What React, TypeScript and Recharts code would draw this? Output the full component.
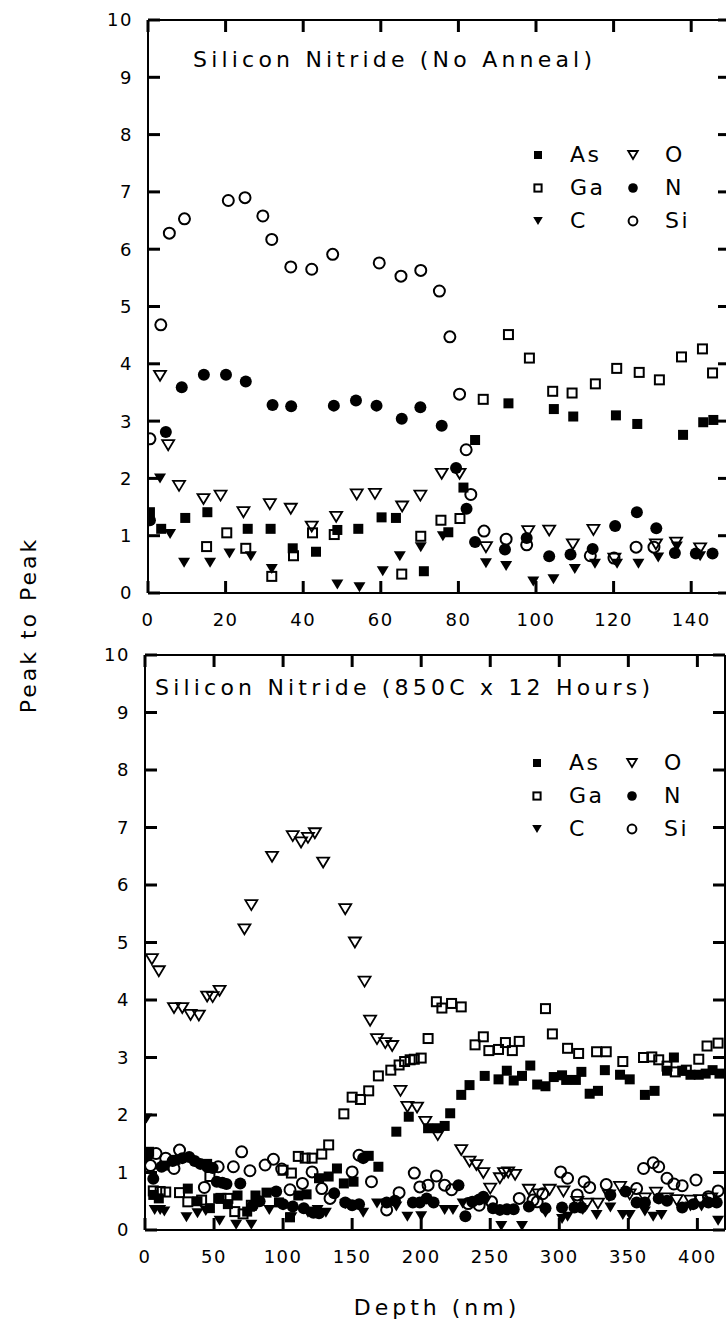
import React from 'react';
import { ScatterChart, Scatter, XAxis, YAxis, Legend } from 'recharts';

const FONT = '"DejaVu Sans", sans-serif';

// upper panel: silicon nitride, no anneal  [depth, peak-to-peak]
const asTop = [[0.5,1.41],[3.4,1.12],[9.6,1.31],[15.3,1.41],[25.7,1.12],[31.6,1.12],[37.3,0.78],[43.3,0.72],[48.8,1.1],[54.2,1.12],[60.2,1.32],[63.9,1.31],[71.1,0.38],[77.4,1.06],[81.3,1.84],[84.3,2.67],[92.9,3.31],[104.6,3.21],[109.6,3.08],[120.6,3.1],[126.1,2.95],[137.9,2.76],[143.1,2.98],[145.7,3.02]];
const gaTop = [[15.1,0.81],[20.3,1.05],[25.2,0.78],[31.9,0.29],[37.5,0.65],[42.4,1.05],[48,1.02],[65.4,0.33],[70.3,0.99],[75.5,1.27],[80.4,1.3],[86.4,3.38],[92.9,4.51],[98.3,4.1],[104.3,3.52],[109.3,3.49],[115.3,3.65],[120.8,3.92],[126.6,3.85],[131.8,3.72],[137.5,4.12],[142.9,4.26],[145.5,3.84]];
const cTop = [[3.1,2.0],[5.7,1.03],[9.3,0.53],[16,0.53],[21,0.69],[26.5,0.64],[31.9,0.42],[48.8,0.15],[54.5,0.1],[60.5,0.38],[64.9,0.64],[70.3,0.8],[76,0.99],[87.1,0.52],[92.3,0.47],[99.3,0.2],[104.5,0.24],[110,0.42],[115.2,0.51],[120.9,0.51],[126.4,0.51],[131.5,0.62],[136.3,0.81],[142.3,0.64]];
const oTop = [[3.1,3.79],[5.2,2.58],[8,1.87],[14.3,1.64],[18.7,1.7],[24.6,1.41],[31.4,1.55],[36.8,1.47],[42.2,1.16],[48.5,1.33],[53.8,1.72],[58.5,1.73],[65.5,1.51],[70.2,1.7],[75.7,2.08],[80.3,2.08],[87.1,0.8],[98,1.08],[103.4,1.09],[109.5,0.85],[114.8,1.1],[120.2,0.6],[130.9,0.85],[136.1,0.88],[142.3,0.78]];
const nTop = [[0.5,1.27],[4.6,2.81],[8.7,3.59],[14.4,3.81],[20.1,3.81],[25.2,3.69],[32.1,3.28],[36.9,3.26],[47.9,3.27],[53.6,3.36],[58.9,3.27],[65.4,3.04],[70.2,3.24],[75.7,2.92],[79.4,2.18],[82.1,1.47],[84.3,0.89],[92,0.76],[97.6,0.96],[103.4,0.64],[108.9,0.67],[114.6,0.77],[120.4,1.17],[126,1.41],[131,1.13],[135.8,0.7],[141.2,0.69],[145.5,0.69]];
const siTop = [[0.5,2.69],[3.3,4.68],[5.5,6.28],[9.4,6.53],[20.7,6.85],[25,6.9],[29.6,6.58],[31.9,6.17],[36.8,5.69],[42.2,5.65],[47.6,5.91],[59.6,5.76],[65.2,5.53],[70.3,5.63],[75.1,5.27],[77.8,4.47],[80.3,3.47],[82,2.5],[83.2,1.72],[86.6,1.08],[92.3,0.94],[97.6,0.84],[114,0.65],[120.1,0.61],[125.8,0.8],[130.4,0.8]];

// lower panel: 850C x 12 hours
const asBot = [[3,1.36],[6,0.61],[10,0.55],[14,1.12],[22,1.22],[31,0.72],[38,0.5],[45,1.15],[47,0.38],[53,0.55],[60,0.45],[67,0.6],[74,0.32],[80,0.6],[88,0.65],[97,0.48],[105,0.22],[111,0.6],[117,0.62],[122,0.32],[126,0.9],[133,0.93],[139,1.07],[144,0.81],[151,0.84],[162,1.29],[169,1.1],[182,1.71],[191,1.97],[205,1.77],[212,1.77],[217,1.81],[221,2.03],[229,2.35],[235,2.52],[246,2.68],[256,2.62],[262,2.77],[267,2.6],[273,2.68],[279,2.86],[284,2.53],[290,2.5],[296,2.66],[302,2.69],[305,2.61],[312,2.61],[316,2.75],[322,2.37],[328,2.42],[333,2.78],[344,2.7],[351,2.62],[362,2.35],[369,2.42],[378,2.77],[383,3.0],[389,2.77],[395,2.7],[401,2.7],[406,2.72],[411,2.78],[416,2.72]];
const gaBot = [[6,0.68],[11,0.67],[15,0.66],[25,0.65],[31,0.49],[41,0.52],[47,0.93],[55,0.55],[60,0.55],[65,0.32],[71,0.28],[77,0.43],[100,1.04],[106,0.99],[111,1.28],[116,1.25],[121,1.25],[128,1.32],[133,1.48],[144,2.02],[150,2.31],[156,2.27],[162,2.42],[169,2.68],[178,2.78],[184,2.87],[188,2.93],[192,2.96],[195,2.97],[200,2.99],[205,3.33],[211,3.97],[215,3.86],[222,3.94],[229,3.88],[239,3.22],[245,3.36],[249,3.12],[256,3.14],[261,3.26],[266,3.12],[271,3.28],[290,3.85],[295,3.41],[306,3.16],[314,3.07],[327,3.1],[334,3.1],[346,2.93],[361,3.0],[367,3.01],[372,2.96],[378,2.85],[384,2.75],[392,2.78],[401,2.97],[407,3.2],[415,3.25]];
const cBot = [[1,1.94],[7,0.35],[11,0.35],[14,0.32],[30,0.22],[38,0.29],[44,0.33],[54,0.16],[66,0.09],[77,0.09],[90,0.35],[106,0.22],[118,0.3],[125,0.35],[131,0.3],[145,0.45],[158,0.3],[168,0.46],[182,0.41],[190,0.23],[200,0.24],[217,0.35],[223,0.35],[230,0.46],[247,0.51],[258,0.07],[273,0.07],[290,0.3],[302,0.19],[306,0.23],[317,0.35],[327,0.26],[337,0.39],[346,0.26],[351,0.26],[362,0.32],[368,0.23],[374,0.26],[389,0.38],[395,0.41],[403,0.41],[415,0.16]];
const oBot = [[5,4.71],[10,4.5],[21,3.86],[27,3.86],[33,3.74],[39,3.73],[45,4.06],[49,4.05],[54,4.16],[72,5.23],[77,5.65],[92,6.49],[107,6.85],[113,6.74],[118,6.82],[123,6.9],[129,6.39],[145,5.58],[152,5.0],[159,4.32],[163,3.64],[168,3.32],[174,3.25],[179,3.2],[185,2.42],[190,2.14],[197,2.13],[203,1.88],[212,1.65],[229,1.39],[235,1.19],[240,1.13],[245,0.99],[250,0.72],[257,0.9],[260,0.99],[263,1.0],[268,0.96],[278,0.7],[285,0.62],[293,0.7],[303,0.67],[313,0.49],[320,0.46],[328,0.46],[336,0.6],[344,0.75],[351,0.62],[362,0.55],[370,0.65],[378,0.55],[385,0.52],[395,0.51],[402,0.52],[410,0.55]];
const nBot = [[2,1.3],[6,0.89],[12,1.1],[20,1.2],[27,1.25],[32,1.27],[36,1.2],[40,1.15],[45,1.1],[49,1.08],[52,0.84],[56,0.82],[59,0.8],[69,0.81],[78,0.42],[83,0.5],[95,0.67],[100,0.45],[107,0.41],[115,0.38],[122,0.3],[126,0.29],[137,0.64],[145,0.48],[150,0.43],[155,0.45],[158,1.25],[175,0.48],[181,0.51],[194,0.48],[199,0.48],[204,0.55],[209,0.48],[227,0.78],[232,0.24],[237,0.49],[242,0.53],[245,0.58],[252,0.38],[257,0.35],[262,0.36],[267,0.36],[278,0.41],[290,0.38],[302,0.39],[311,0.39],[316,0.39],[337,0.61],[348,0.67],[356,0.48],[362,0.48],[372,0.55],[378,0.51],[389,0.39],[397,0.45],[408,0.48],[414,0.48]];
const siBot = [[4,1.12],[8,1.33],[15,1.25],[21,1.07],[25,1.39],[43,0.74],[53,1.1],[64,1.1],[70,1.36],[76,1.03],[87,1.13],[93,1.23],[99,1.06],[105,0.7],[114,0.81],[121,1.01],[128,0.72],[134,0.55],[150,1.01],[155,1.3],[164,0.84],[175,0.35],[184,0.65],[195,0.99],[199,0.75],[205,0.78],[211,0.94],[217,0.78],[222,0.7],[234,0.46],[242,0.43],[251,0.49],[271,0.55],[281,0.52],[284,0.49],[288,0.63],[301,1.01],[306,0.9],[313,0.61],[318,0.84],[322,0.74],[334,0.79],[356,0.72],[361,1.07],[368,1.17],[372,1.1],[378,0.9],[383,0.8],[389,0.77],[399,0.87],[408,0.58],[415,0.68]];

const yTicks = [0, 1, 2, 3, 4, 5, 6, 7, 8, 9, 10];
const xTicksTop = [0, 20, 40, 60, 80, 100, 120, 140];
const xTicksBot = [0, 50, 100, 150, 200, 250, 300, 350, 400];

const legendRows = [
  [['sqFill', 'As'], ['triOpen', 'O']],
  [['sqOpen', 'Ga'], ['dotFill', 'N']],
  [['triFill', 'C'], ['dotOpen', 'Si']],
];

const toXY = (a: number[][]) => a.map(([x, y]) => ({ x, y }));

function Mark({ kind, cx, cy, s = 1 }: { kind: string; cx: number; cy: number; s?: number }) {
  const k = '#000';
  switch (kind) {
    case 'sqFill':
      return <rect x={cx - 5 * s} y={cy - 5 * s} width={10 * s} height={10 * s} fill={k} />;
    case 'sqOpen':
      return <rect x={cx - 4.5 * s} y={cy - 4.5 * s} width={9 * s} height={9 * s} fill="none" stroke={k} strokeWidth={2} />;
    case 'triFill':
      return <polygon points={`${cx - 6 * s},${cy - 5 * s} ${cx + 6 * s},${cy - 5 * s} ${cx},${cy + 5 * s}`} fill={k} />;
    case 'triOpen':
      return <polygon points={`${cx - 6 * s},${cy - 5 * s} ${cx + 6 * s},${cy - 5 * s} ${cx},${cy + 5 * s}`} fill="none" stroke={k} strokeWidth={1.8} />;
    case 'dotFill':
      return <circle cx={cx} cy={cy} r={6 * s} fill={k} />;
    default:
      return <circle cx={cx} cy={cy} r={5.5 * s} fill="none" stroke={k} strokeWidth={2} />;
  }
}

const shape = (kind: string) => (p: any) => <Mark kind={kind} cx={p.cx} cy={p.cy} />;

const LegendBox = () => (
  <div style={{ position: 'relative', width: 190, height: 100, fontFamily: FONT, fontSize: 22, letterSpacing: 2.5 }}>
    {legendRows.map((row, r) =>
      row.map(([kind, name], c) => (
        <React.Fragment key={name}>
          <svg style={{ position: 'absolute', left: c * 95, top: r * 33 + 7 }} width={20} height={20}>
            <Mark kind={kind} cx={10} cy={10} s={0.8} />
          </svg>
          <span style={{ position: 'absolute', left: c * 95 + 42, top: r * 33, lineHeight: '34px' }}>{name}</span>
        </React.Fragment>
      ))
    )}
  </div>
);

const TL = 12; // inward tick length
const TW = 3;
const tickText = { fill: '#000', fontSize: 18, fontFamily: FONT, letterSpacing: 1.5 };
const axisLine = { stroke: '#000', strokeWidth: 2 };

// inward ticks on both sides of the frame; position along the axis comes from the axis scale
const leftTick = (edge: number, far: number) => (p: any) => (
  <g>
    <line x1={edge} x2={edge + TL} y1={p.y} y2={p.y} stroke="#000" strokeWidth={TW} />
    <line x1={far} x2={far - TL} y1={p.y} y2={p.y} stroke="#000" strokeWidth={TW} />
    <text x={edge - 15} y={p.y} dy="0.36em" textAnchor="end" {...tickText}>{String(p.payload.value)}</text>
  </g>
);
const bottomTick = (edge: number, far: number) => (p: any) => (
  <g>
    <line x1={p.x} x2={p.x} y1={edge} y2={edge - TL} stroke="#000" strokeWidth={TW} />
    <line x1={p.x} x2={p.x} y1={far} y2={far + TL} stroke="#000" strokeWidth={TW} />
    <text x={p.x} y={edge + 27} dy="0.36em" textAnchor="middle" {...tickText}>{String(p.payload.value)}</text>
  </g>
);

function Panel({ series, xMax, xTicks, leftW, plotW, height, legendPos }: any) {
  const w = leftW + plotW + 10;
  const top = 20;
  const bottom = height - 40;
  const right = leftW + plotW;
  return (
    <ScatterChart width={w} height={height} margin={{ top: 0, right: 0, bottom: 0, left: 0 }}>
      <XAxis type="number" dataKey="x" domain={[0, xMax]} ticks={xTicks} height={40} interval={0}
        tick={bottomTick(bottom, top)} tickLine={false} axisLine={axisLine} allowDataOverflow />
      <XAxis xAxisId="top" orientation="top" type="number" domain={[0, xMax]} height={20}
        tick={false} tickLine={false} axisLine={axisLine} />
      <YAxis type="number" dataKey="y" domain={[0, 10]} ticks={yTicks} width={leftW} interval={0}
        tick={leftTick(leftW, right)} tickLine={false} axisLine={axisLine} />
      <YAxis yAxisId="right" orientation="right" type="number" domain={[0, 10]} width={10}
        tick={false} tickLine={false} axisLine={axisLine} />
      <Legend layout="horizontal" verticalAlign="middle" align="center" content={() => <LegendBox />}
        wrapperStyle={{ top: legendPos[1], left: legendPos[0], width: 190 }} />
      {series.map(([name, kind, data]: any) => (
        <Scatter key={name} name={name} data={toXY(data)} shape={shape(kind)} isAnimationActive={false} />
      ))}
    </ScatterChart>
  );
}

const topSeries = [['As', 'sqFill', asTop], ['Ga', 'sqOpen', gaTop], ['C', 'triFill', cTop], ['O', 'triOpen', oTop], ['N', 'dotFill', nTop], ['Si', 'dotOpen', siTop]];
const botSeries = [['As', 'sqFill', asBot], ['Ga', 'sqOpen', gaBot], ['C', 'triFill', cBot], ['O', 'triOpen', oBot], ['N', 'dotFill', nBot], ['Si', 'dotOpen', siBot]];

const label: React.CSSProperties = { position: 'absolute', fontFamily: FONT, fontSize: 22, letterSpacing: 4.2, whiteSpace: 'nowrap', color: '#000' };

export default function App() {
  return (
    <div style={{ position: 'absolute', left: 0, top: 0, width: 726, height: 1326, overflow: 'hidden', background: '#fff' }}>
      <div style={{ position: 'absolute', left: 0, top: 0 }}>
        <Panel series={topSeries} xMax={150} xTicks={xTicksTop} leftW={148} plotW={582} height={633} legendPos={[528, 138]} />
      </div>
      <div style={{ position: 'absolute', left: 0, top: 635 }}>
        <Panel series={botSeries} xMax={420} xTicks={xTicksBot} leftW={145} plotW={580} height={635} legendPos={[527, 111]} />
      </div>
      <div style={{ ...label, left: 193, top: 47 }}>Silicon Nitride (No Anneal)</div>
      <div style={{ ...label, left: 155, top: 675 }}>Silicon Nitride (850C x 12 Hours)</div>
      <div style={{ ...label, left: 28, top: 625, letterSpacing: 3, transform: 'translate(-50%, -50%) rotate(-90deg)' }}>Peak to Peak</div>
      <div style={{ ...label, left: 437, top: 1307, letterSpacing: 4, transform: 'translate(-50%, -50%)' }}>Depth (nm)</div>
    </div>
  );
}
